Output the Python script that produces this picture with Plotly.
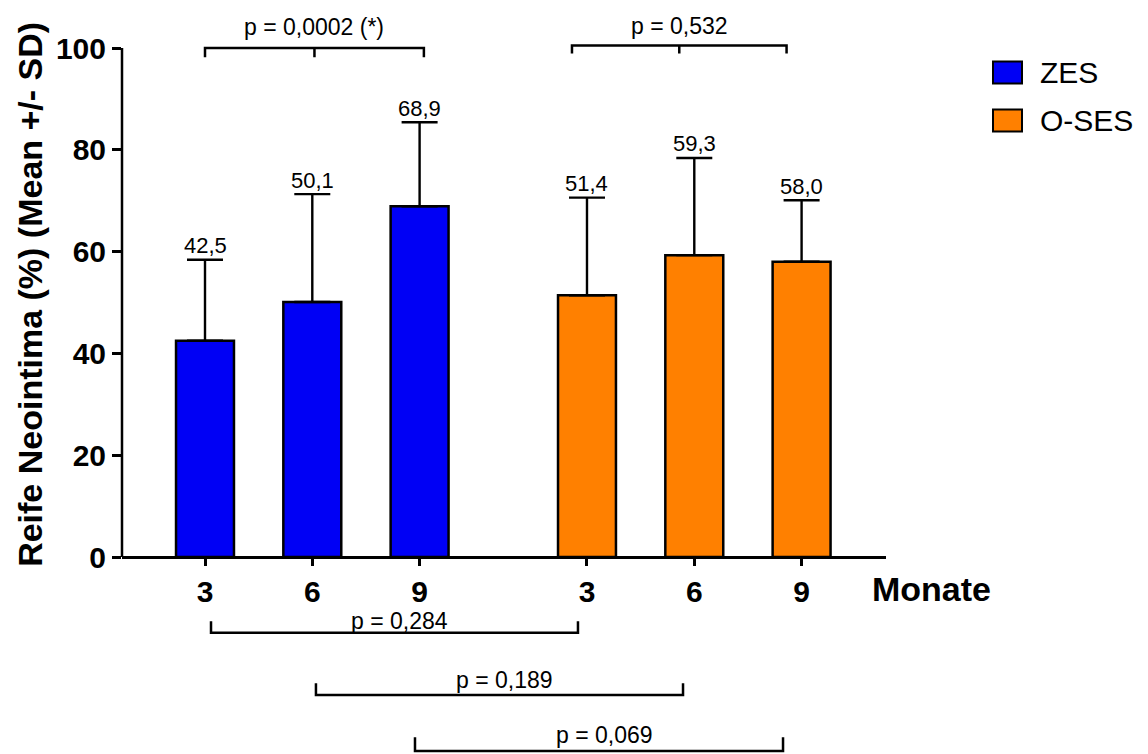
import plotly.graph_objects as go

# ---------------- data ----------------
months = ["3", "6", "9"]
zes_mean = [42.5, 50.1, 68.9]
zes_sd = [15.9, 21.2, 16.5]
oses_mean = [51.4, 59.3, 58.0]
oses_sd = [19.2, 19.1, 12.1]
series_names = ["ZES", "O-SES"]
top_p = ["p = 0,0002 (*)", "p = 0,532"]
bottom_p = ["p = 0,284", "p = 0,189", "p = 0,069"]
y_ticks = [0, 20, 40, 60, 80, 100]

# ---------------- layout params ----------------
OFF = 8                      # page body margin
W, H = 1148 - OFF, 754 - OFF
ML, MR, MT, MB = 122 - OFF, 262, 0, 0
GROUP_GAP = 1.56
BAR_W = 0.54
COLORS = ["#0000F5", "#FF8000"]
FONT = "Liberation Sans, Arial, sans-serif"
PPU_X = 107.3   # px per x unit
PPU_Y = 5.09    # px per y unit
Y0_PX = 557 - OFF     # pixel of y=0
X0_PX = 205 - OFF     # pixel of first bar

x_zes = [i for i in range(len(months))]
x_oses = [i + len(months) - 1 + GROUP_GAP for i in range(len(months))]

x_range = [(ML - X0_PX) / PPU_X, (W - MR - X0_PX) / PPU_X]
y_range = [-(H - MB - Y0_PX) / PPU_Y, (Y0_PX - MT) / PPU_Y]
x_axis_pos = (0 - y_range[0]) / (y_range[1] - y_range[0])


def px_x(p):
    # p = pixel in reference screenshot
    return (p - OFF - ML) / (W - ML - MR)


def px_y(p):
    return (H - MB - (p - OFF)) / (H - MT - MB)


def fmt(v):
    return f"{v:.1f}".replace(".", ",")


fig = go.Figure()
for xs, means, sds, col, name in [
    (x_zes, zes_mean, zes_sd, COLORS[0], series_names[0]),
    (x_oses, oses_mean, oses_sd, COLORS[1], series_names[1]),
]:
    fig.add_trace(go.Bar(
        x=xs, y=means, width=BAR_W, name=name, showlegend=False,
        marker=dict(color=col, line=dict(color="black", width=2.5)),
        error_y=dict(type="data", array=sds, arrayminus=[0] * len(sds), symmetric=False,
                     color="black", thickness=2.4, width=18),
    ))

annotations = []
shapes = []

# value labels
for xs, means, sds in [(x_zes, zes_mean, zes_sd), (x_oses, oses_mean, oses_sd)]:
    for x, m, s in zip(xs, means, sds):
        annotations.append(dict(x=x, y=m + s, xref="x", yref="y", text=fmt(m), showarrow=False,
                                yshift=14, yanchor="middle",
                                font=dict(family=FONT, size=22, color="black")))

LW = 2.5
# top brackets (within-group)
top_brackets = [(x_zes[0], x_zes[2] + 0.04), (x_oses[0] - 0.14, x_oses[2] - 0.14)]
top_y = [(100.0, 98.2, 104.2), (100.5, 98.9, 104.4)]
for (x0, x1), (yl, yt, ytxt), txt in zip(top_brackets, top_y, top_p):
    xm = (x0 + x1) / 2
    shapes.append(dict(type="path", xref="x", yref="y",
                       path=f"M {x0},{yt} L {x0},{yl} L {x1},{yl} L {x1},{yt} M {xm},{yl} L {xm},{yt}",
                       line=dict(color="black", width=LW)))
    annotations.append(dict(x=xm, y=ytxt, xref="x", yref="y", text=txt, showarrow=False,
                            yanchor="middle", font=dict(family=FONT, size=23, color="black")))

# bottom brackets (between groups)
bottom_brackets = [(x_zes[i] + off0, x_oses[i] + off1) for i, (off0, off1) in
                   enumerate([(0.056, -0.084), (0.034, -0.105), (-0.043, -0.173)])]
bottom_y = [(-14.9, -12.6, -12.5), (-27.1, -24.8, -24.1), (-38.1, -35.4, -35.0)]
for (x0, x1), (yl, yt, ytxt), txt in zip(bottom_brackets, bottom_y, bottom_p):
    xm = (x0 + x1) / 2 + 0.05
    shapes.append(dict(type="path", xref="x", yref="y",
                       path=f"M {x0},{yt} L {x0},{yl} L {x1},{yl} L {x1},{yt}",
                       line=dict(color="black", width=LW)))
    annotations.append(dict(x=xm, y=ytxt, xref="x", yref="y", text=txt, showarrow=False,
                            yanchor="middle", font=dict(family=FONT, size=23, color="black")))

# y axis line (0..100)
shapes.append(dict(type="line", xref="paper", yref="y", x0=0, x1=0, y0=y_ticks[0], y1=y_ticks[-1],
                   line=dict(color="black", width=LW)))

# y axis title
annotations.append(dict(x=px_x(30), y=51.5, xref="paper", yref="y", text="Reife Neointima (%) (Mean +/- SD)",
                        textangle=-90, showarrow=False, xanchor="center", yanchor="middle",
                        font=dict(family=FONT, size=34, color="black", weight="bold")))

# x axis title
annotations.append(dict(x=px_x(870), y=px_y(589), xref="paper", yref="paper", text="Monate",
                        showarrow=False, xanchor="left", yanchor="middle",
                        font=dict(family=FONT, size=34, color="black", weight="bold")))

# legend
leg_rows = [72.5, 120.5]
for name, col, yc in zip(series_names, COLORS, leg_rows):
    shapes.append(dict(type="rect", xref="paper", yref="paper",
                       x0=px_x(993), x1=px_x(1022), y0=px_y(yc + 11), y1=px_y(yc - 11),
                       fillcolor=col, line=dict(color="black", width=2)))
    annotations.append(dict(x=px_x(1038), y=px_y(yc), xref="paper", yref="paper", text=name,
                            showarrow=False, xanchor="left", yanchor="middle",
                            font=dict(family=FONT, size=30, color="black")))

fig.update_layout(
    width=W, height=H,
    margin=dict(l=ML, r=MR, t=MT, b=MB, pad=0),
    paper_bgcolor="white", plot_bgcolor="white",
    showlegend=False,
    barmode="overlay",
    shapes=shapes, annotations=annotations,
    xaxis=dict(range=x_range, anchor="free", position=x_axis_pos,
               tickvals=x_zes + x_oses, ticktext=months + months,
               ticks="outside", ticklen=7, tickwidth=LW, tickcolor="black",
               showline=True, linecolor="black", linewidth=LW,
               showgrid=False, zeroline=False,
               tickfont=dict(family=FONT, size=30, color="black", weight="bold")),
    yaxis=dict(range=y_range, tickvals=y_ticks, ticktext=[str(v) for v in y_ticks],
               ticks="outside", ticklen=9, tickwidth=LW, tickcolor="black",
               showline=False, showgrid=False, zeroline=False,
               tickfont=dict(family=FONT, size=30, color="black", weight="bold")),
)

fig.write_html("out.html")
